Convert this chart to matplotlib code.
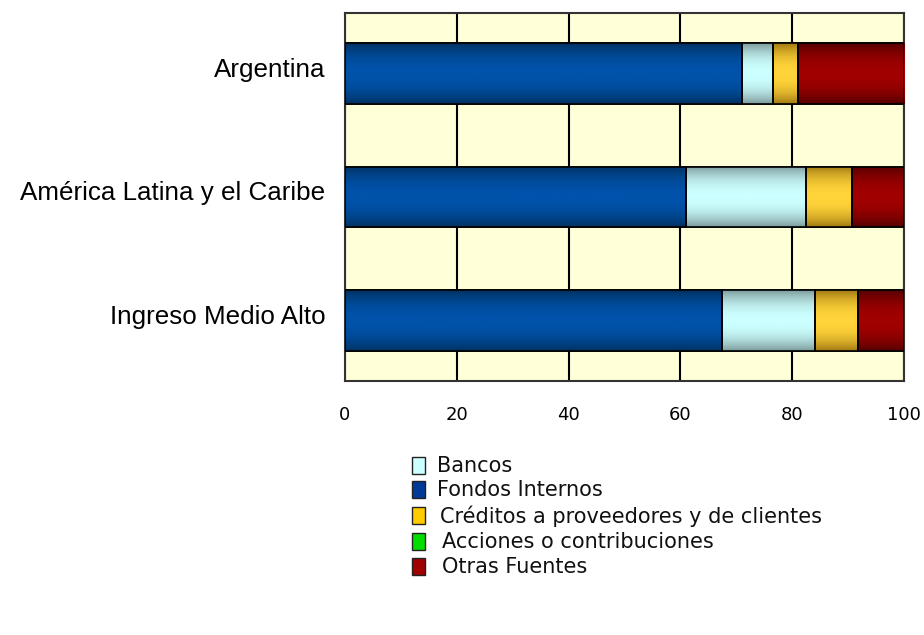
import numpy as np
import matplotlib
matplotlib.use("Agg")
import matplotlib.pyplot as plt
from matplotlib.colors import LinearSegmentedColormap
from matplotlib.patches import Rectangle

paises = ["Argentina", "América Latina y el Caribe", "Ingreso Medio Alto"]
fondos = [71.0, 61.0, 67.5]
bancos = [5.5, 21.5, 16.5]
creditos = [4.5, 8.2, 7.8]
acciones = [0.0, 0.0, 0.0]
otras = [19.0, 9.3, 8.2]

series = [
    ("Fondos Internos", fondos, "#003262", "#0052AA"),
    ("Bancos", bancos, "#7E9C9C", "#CCFFFF"),
    ("Créditos a proveedores y de clientes", creditos, "#A27A12", "#FFD43A"),
    ("Acciones o contribuciones", acciones, "#007A00", "#00E000"),
    ("Otras Fuentes", otras, "#560000", "#A00000"),
]
orden_leyenda = [1, 0, 2, 3, 4]
cor_leyenda = ["#CCFFFF", "#003A99", "#FFCC00", "#00DD00", "#A00000"]

fig = plt.figure(figsize=(9.24, 6.35), dpi=100)
ax = fig.add_axes([345 / 924, 1 - 381 / 635, (904 - 345) / 924, (381 - 13) / 635])
ax.set_facecolor("#FFFFD8")

y = np.arange(len(paises))
altura = 0.49
esquerda = np.zeros(len(paises))
perfil = np.abs(np.linspace(-1, 1, 64)) ** 2.2

for nome, vals, escuro, claro in series:
    cmap = LinearSegmentedColormap.from_list(nome, [claro, escuro])
    barras = ax.barh(y, vals, left=esquerda, height=altura, color=claro,
                     edgecolor="black", linewidth=1.2, zorder=3)
    for b in barras:
        if b.get_width() <= 0:
            continue
        x0, y0 = b.get_x(), b.get_y()
        img = ax.imshow(perfil[:, None], cmap=cmap, aspect="auto", zorder=3.5,
                        extent=[x0, x0 + b.get_width(), y0 + b.get_height(), y0],
                        interpolation="bilinear")
        img.set_clip_path(b)
        ax.add_patch(Rectangle((x0, y0), b.get_width(), b.get_height(),
                               fill=False, edgecolor="black", linewidth=1.2, zorder=4))
    esquerda += np.array(vals)

ax.set_xlim(0, 100)
ax.set_ylim(2.49, -0.49)
ax.set_xticks([0, 20, 40, 60, 80, 100])
ax.set_yticks(y - 0.05)
ax.set_yticklabels(paises, family="Liberation Sans", fontsize=18.7)
ax.tick_params(axis="y", length=0, pad=14)
ax.tick_params(axis="x", length=0, pad=18, labelsize=13)
ax.xaxis.grid(True, color="black", linewidth=1.5, zorder=1)
ax.set_axisbelow(True)
for s in ax.spines.values():
    s.set_color("#333333")
    s.set_linewidth(1.5)

# leyenda manual
linhas_y = [466, 490, 516, 542, 567]
texto_x = [437, 437, 440, 442, 442]
for k, i in enumerate(orden_leyenda):
    yc = linhas_y[k]
    fig.patches.append(Rectangle((412 / 924, 1 - (yc + 8) / 635), 13 / 924, 17 / 635,
                                 transform=fig.transFigure, facecolor=cor_leyenda[k],
                                 edgecolor="#222222", linewidth=1))
    fig.text(texto_x[k] / 924, 1 - yc / 635, series[i][0], fontsize=15,
             va="center", ha="left", color="#111111")

fig.savefig("out.png", dpi=100, facecolor="white")
